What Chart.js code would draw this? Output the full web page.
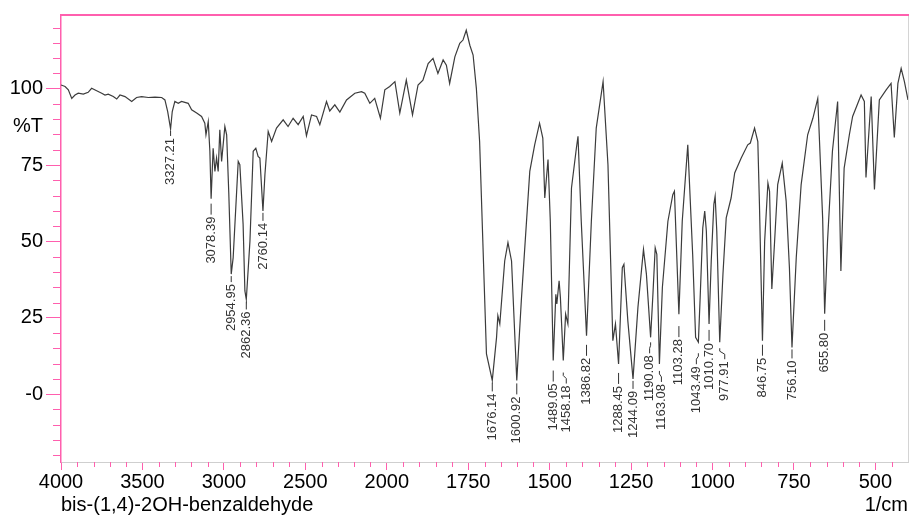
<!DOCTYPE html>
<html>
<head>
<meta charset="utf-8">
<script src="https://cdn.jsdelivr.net/npm/chart.js@4.4.1/dist/chart.umd.min.js"></script>
<style>
  html, body { margin: 0; background: #fff; }
  #wrap { width: 910px; height: 517px; }
</style>
</head>
<body>
<div id="wrap"><canvas id="ir"></canvas></div>
<script>
// spectrum (wavenumber in 1/cm, %T)
const wavenumbers = [
  4000, 3975, 3955, 3934, 3914, 3894, 3863, 3833, 3812, 3781, 3750, 3730, 3710, 3679, 3658, 3638,
  3607, 3566, 3536, 3505, 3464, 3423, 3382, 3362, 3345, 3327.21, 3317, 3301, 3280, 3260, 3219, 3198,
  3167, 3137, 3117, 3110, 3096, 3086, 3078.39, 3066, 3055, 3045, 3035, 3025, 3014, 2994, 2983, 2970,
  2954.95, 2943, 2912, 2902, 2882, 2871, 2862.36, 2840, 2820, 2804, 2790, 2779, 2760.14, 2748, 2728,
  2707, 2677, 2636, 2606, 2575, 2544, 2513, 2493, 2462, 2431, 2411, 2370, 2350, 2319, 2288, 2247,
  2196, 2155, 2135, 2104, 2074, 2039, 2012, 1991, 1975, 1960, 1940, 1921, 1904, 1889, 1873, 1858,
  1843, 1827, 1817, 1807, 1791, 1776, 1766, 1756, 1745, 1735, 1725, 1715, 1694, 1676.14, 1663, 1659,
  1653, 1638, 1628, 1617, 1600.92, 1587, 1561, 1546, 1531, 1521, 1515, 1505, 1498, 1489.05, 1481,
  1478, 1471, 1467, 1458.18, 1451, 1444, 1433, 1418, 1413, 1403, 1386.82, 1372, 1357, 1336, 1321,
  1306, 1298, 1288.45, 1277, 1272, 1260, 1244.09, 1229, 1212, 1203, 1190.08, 1183, 1176, 1171,
  1163.08, 1154, 1137, 1122, 1117, 1103.28, 1093, 1076, 1061, 1052, 1043.49, 1038, 1030, 1024, 1019,
  1010.70, 1004, 996, 992, 987, 977.91, 968, 958, 943, 932, 912, 892, 884, 871, 861, 856, 846.75,
  840, 830, 825, 818, 810, 800, 786, 774, 764, 756.10, 743, 728, 708, 692, 677, 662, 655.80, 647,
  632, 616, 606, 596, 580, 570, 544, 534, 529, 513, 503, 488, 467, 452, 442, 431, 421, 411, 400
];
const transmittance = [
  101.2, 100.7, 99.6, 96.8, 97.9, 98.5, 98.2, 98.8, 100.1, 99.3, 98.5, 97.9, 98.2, 97.4, 96.6, 97.9,
  97.4, 95.8, 97.1, 97.4, 97.1, 97.2, 97.1, 96.3, 92.5, 86.8, 92.5, 95.8, 95.2, 95.8, 95.2, 93.1,
  92.0, 90.9, 88.7, 84.9, 89.2, 79.5, 64.0, 80.5, 72.9, 77.3, 72.9, 86.5, 76.2, 87.6, 84.9, 66.0,
  39.3, 44.7, 76.2, 75.1, 55.6, 33.8, 31.0, 50.1, 79.5, 80.5, 77.8, 77.3, 60.0, 71.9, 86.0,
  82.7, 87.1, 89.8, 87.6, 90.3, 88.2, 90.9, 84.6, 91.4, 90.9, 88.2, 95.8, 92.7, 94.7, 92.3, 96.3,
  98.5, 99.0, 98.5, 95.2, 96.8, 90.3, 99.6, 100.7, 102.3, 92.0, 102.8, 91.4, 101.2, 102.8, 108.2, 109.9,
  105.0, 109.4, 107.7, 101.7, 110.4, 114.8, 115.9, 119.1, 114.2, 111.0, 100.1, 82.7, 13.2, 4.5, 18.6, 25.7,
  23.0, 43.6, 49.6, 43.6, 4.5, 30.6, 72.9, 81.6, 88.7, 83.8, 64.2, 76.8, 56.6, 11.0, 32.7,
  29.5, 37.1, 31.6, 11.0, 26.2, 23.0, 67.5, 80.5, 84.4, 56.6, 19.1, 56.6, 87.1, 102.3, 75.1,
  17.5, 23.0, 9.9, 41.4, 42.5, 24.0, 5.0, 28.4, 47.4, 39.3, 18.6, 32.7, 47.9, 45.8,
  9.9, 34.9, 56.6, 65.3, 66.4, 26.2, 56.6, 81.6, 45.8, 18.6, 17.0, 31.6, 54.4, 59.9, 53.4,
  23.0, 43.6, 62.1, 64.8, 53.4, 17.0, 39.3, 57.7, 64.2, 72.4, 77.3, 81.6, 82.2, 87.1, 82.7, 62.1, 17.5,
  50.1, 69.1, 66.4, 34.4, 49.0, 68.6, 75.6, 63.2, 41.4, 15.3, 44.7, 68.6, 84.9, 90.3, 96.8, 57.7, 26.3, 50.1,
  79.5, 95.8, 40.3, 74.0, 84.9, 90.9, 97.9, 95.8, 70.9, 97.4, 67.0, 96.3, 99.6, 101.7, 84.0, 101.7, 106.6, 102.3, 96.3
];
const peakLabels = [
  3327.21, 3078.39, 2954.95, 2862.36, 2760.14, 1676.14, 1600.92, 1489.05, 1458.18, 1386.82,
  1288.45, 1244.09, 1190.08, 1163.08, 1103.28, 1043.49, 1010.70, 977.91, 846.75, 756.10, 655.80
];
const xTickLabels = [4000, 3500, 3000, 2500, 2000, 1750, 1500, 1250, 1000, 750, 500];
const yTickLabels = [100, 75, 50, 25, 0];

const PINK = '#ff5fae';
const FONT = '"Liberation Sans", Arial, sans-serif';

// the instrument halves the scale below 2000 1/cm: map to a linear axis unit
const toAxis = w => (w >= 2000 ? 4000 - w : 2000 + 2 * (2000 - w));
const fromAxis = u => (u <= 2000 ? 4000 - u : 2000 - (u - 2000) / 2);

const points = wavenumbers.map((w, i) => ({ x: toAxis(w), y: transmittance[i] }));

// label layout: sideways shift and drop below the drawn minimum (px)
const labelShift = { '1458.18': 3, '1163.08': 2, '977.91': 5, '1043.49': -2, '1190.08': -1 };
const labelDrop = {
  '3327.21': 9, '3078.39': 18, '2954.95': 10, '2862.36': 12, '2760.14': 12,
  '1676.14': 13, '1600.92': 16, '1489.05': 23, '1458.18': 25, '1386.82': 22,
  '1288.45': 22, '1244.09': 12, '1190.08': 18, '1163.08': 20, '1103.28': 25,
  '1043.49': 24, '1010.70': 19, '977.91': 19, '846.75': 17, '756.10': 13, '655.80': 19
};

const irDecor = {
  id: 'irDecor',
  afterDraw(chart) {
    const { ctx, chartArea: a, scales: { x, y } } = chart;
    ctx.save();

    // minor ticks
    ctx.strokeStyle = PINK;
    ctx.lineWidth = 1;
    ctx.beginPath();
    for (let u = 100; u < toAxis(400); u += 100) {
      if (u % 500 === 0) continue;
      const px = Math.round(x.getPixelForValue(u)) + 0.5;
      ctx.moveTo(px, a.bottom); ctx.lineTo(px, a.bottom + 5);
    }
    for (let v = -20; v <= 120; v += 5) {
      if (v % 25 === 0) continue;
      const py = Math.round(y.getPixelForValue(v)) + 0.5;
      ctx.moveTo(a.left - 8, py); ctx.lineTo(a.left, py);
    }
    ctx.stroke();

    // frame
    ctx.strokeStyle = '#d4d4d4';
    ctx.beginPath();
    ctx.moveTo(a.right + 0.5, a.top); ctx.lineTo(a.right + 0.5, a.bottom);
    ctx.stroke();
    ctx.strokeStyle = PINK;
    ctx.lineWidth = 2;
    ctx.beginPath();
    ctx.moveTo(a.left, a.top); ctx.lineTo(a.right + 1, a.top);
    ctx.stroke();

    // peak labels
    ctx.strokeStyle = '#333';
    ctx.fillStyle = '#333';
    ctx.lineWidth = 1;
    ctx.font = '13px ' + FONT;
    peakLabels.forEach(p => {
      const key = p.toFixed(2);
      let k = 0;
      wavenumbers.forEach((w, i) => { if (Math.abs(w - p) < Math.abs(wavenumbers[k] - p)) k = i; });
      const px = x.getPixelForValue(toAxis(p));
      const py = y.getPixelForValue(transmittance[k]);
      const top = py + (labelDrop[key] || 12);
      const tx = px + (labelShift[key] || 0);
      const y0 = Math.max(py + 2, top - 13);
      ctx.beginPath();
      ctx.moveTo(px, y0);
      if (tx !== px) {
        ctx.lineTo(px, y0 + 3);
        ctx.lineTo(tx, y0 + 6);
      }
      ctx.lineTo(tx, top - 2);
      ctx.stroke();
      ctx.save();
      ctx.translate(tx, top);
      ctx.rotate(-Math.PI / 2);
      ctx.textAlign = 'right';
      ctx.textBaseline = 'middle';
      ctx.fillText(key, 0, 0);
      ctx.restore();
    });

    // axis captions
    ctx.fillStyle = '#000';
    ctx.font = '20px ' + FONT;
    ctx.textBaseline = 'middle';
    ctx.textAlign = 'right';
    ctx.fillText('%T', a.left - 18, y.getPixelForValue(87.5));
    ctx.fillText('1/cm', a.right, 505);
    ctx.textAlign = 'left';
    ctx.fillText('bis-(1,4)-2OH-benzaldehyde', a.left, 505);
    ctx.restore();
  }
};

new Chart(document.getElementById('ir'), {
  type: 'line',
  data: {
    datasets: [{
      data: points,
      borderColor: '#3c3c3c',
      borderWidth: 1.2,
      pointRadius: 0,
      tension: 0
    }]
  },
  options: {
    animation: false,
    responsive: true,
    maintainAspectRatio: false,
    layout: { padding: { top: 13, right: 2, left: 0, bottom: 0 } },
    plugins: { legend: { display: false }, tooltip: { enabled: false } },
    scales: {
      x: {
        type: 'linear',
        min: toAxis(4000),
        max: toAxis(400),
        afterFit: s => { s.height = 55; },
        afterBuildTicks: s => { s.ticks = xTickLabels.map(w => ({ value: toAxis(w) })); },
        ticks: {
          callback: v => String(Math.round(fromAxis(v))),
          font: { family: FONT, size: 20 },
          color: '#000',
          padding: 0,
          maxRotation: 0,
          autoSkip: false
        },
        grid: { drawOnChartArea: false, tickLength: 8, tickColor: PINK, tickWidth: 1 },
        border: { color: '#cfcfcf', width: 1 }
      },
      y: {
        min: -22.2,
        max: 124.1,
        afterFit: s => { s.width = 61; },
        afterBuildTicks: s => { s.ticks = yTickLabels.map(v => ({ value: v })); },
        ticks: {
          callback: v => (v === 0 ? '-0' : String(v)),
          font: { family: FONT, size: 20 },
          color: '#000',
          padding: 3
        },
        grid: { drawOnChartArea: false, tickLength: 15, tickColor: PINK, tickWidth: 1 },
        border: { color: PINK, width: 1.5 }
      }
    }
  },
  plugins: [irDecor]
});
</script>
</body>
</html>
